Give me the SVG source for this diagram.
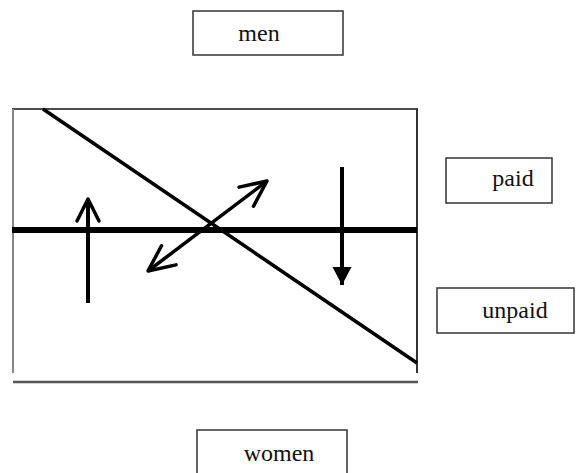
<svg xmlns="http://www.w3.org/2000/svg" width="576" height="473" viewBox="0 0 576 473">
<style>
.box{fill:#fff;stroke:#333;stroke-width:1.5}
.lbl{font-family:"Liberation Serif","Times New Roman",serif;font-size:24px;fill:#111;text-anchor:middle}
.ln{stroke:#000;fill:none}
</style>
<defs>
<marker id="open" viewBox="-28 -14 32 28" refX="0" refY="0" markerWidth="32" markerHeight="28" orient="auto-start-reverse" markerUnits="userSpaceOnUse">
<path d="M-22,-11 L0,0 L-22,11" fill="none" stroke="#000" stroke-width="3.5" stroke-linecap="round" stroke-linejoin="round"/>
</marker>
<marker id="open2" viewBox="-30 -16 34 32" refX="0" refY="0" markerWidth="34" markerHeight="32" orient="auto-start-reverse" markerUnits="userSpaceOnUse">
<path d="M-26,-12 L0,0 L-26,12" fill="none" stroke="#000" stroke-width="3.5" stroke-linecap="round" stroke-linejoin="round"/>
</marker>
<marker id="solid" viewBox="-20 -11 22 22" refX="0" refY="0" markerWidth="22" markerHeight="22" orient="auto" markerUnits="userSpaceOnUse">
<path d="M-18,-9.5 L0,0 L-18,9.5 Z" fill="#000"/>
</marker>
</defs>
<rect width="576" height="473" fill="#fff"/>
<g id="frame">
<line x1="12" y1="109" x2="418" y2="109" stroke="#111" stroke-width="1.5"/>
<line x1="13" y1="109" x2="13" y2="373" stroke="#888" stroke-width="2"/>
<line x1="417" y1="109" x2="417" y2="373" stroke="#333" stroke-width="2"/>
<line x1="13" y1="382" x2="418" y2="382" stroke="#555" stroke-width="2.5"/>
<line x1="43" y1="109" x2="417" y2="363" class="ln" stroke-width="3.5"/>
<line x1="12" y1="230" x2="417" y2="230" class="ln" stroke-width="6"/>
</g>
<g id="connectors">
<line x1="88" y1="303" x2="88" y2="199" class="ln" stroke-width="4" marker-end="url(#open)"/>
<line x1="148" y1="271" x2="267" y2="181" class="ln" stroke-width="3.5" marker-start="url(#open2)" marker-end="url(#open2)"/>
<line x1="342" y1="167" x2="342" y2="285" class="ln" stroke-width="4" marker-end="url(#solid)"/>
</g>
<g id="men">
<rect class="box" x="193" y="11" width="150" height="44"/>
<text class="lbl" x="259" y="41">men</text>
</g>
<g id="paid">
<rect class="box" x="446" y="158" width="106" height="45"/>
<text class="lbl" x="513" y="186">paid</text>
</g>
<g id="unpaid">
<rect class="box" x="437" y="288" width="137" height="45"/>
<text class="lbl" x="515" y="318">unpaid</text>
</g>
<g id="women">
<rect class="box" x="197" y="430" width="150" height="48"/>
<text class="lbl" x="279" y="461">women</text>
</g>
</svg>
